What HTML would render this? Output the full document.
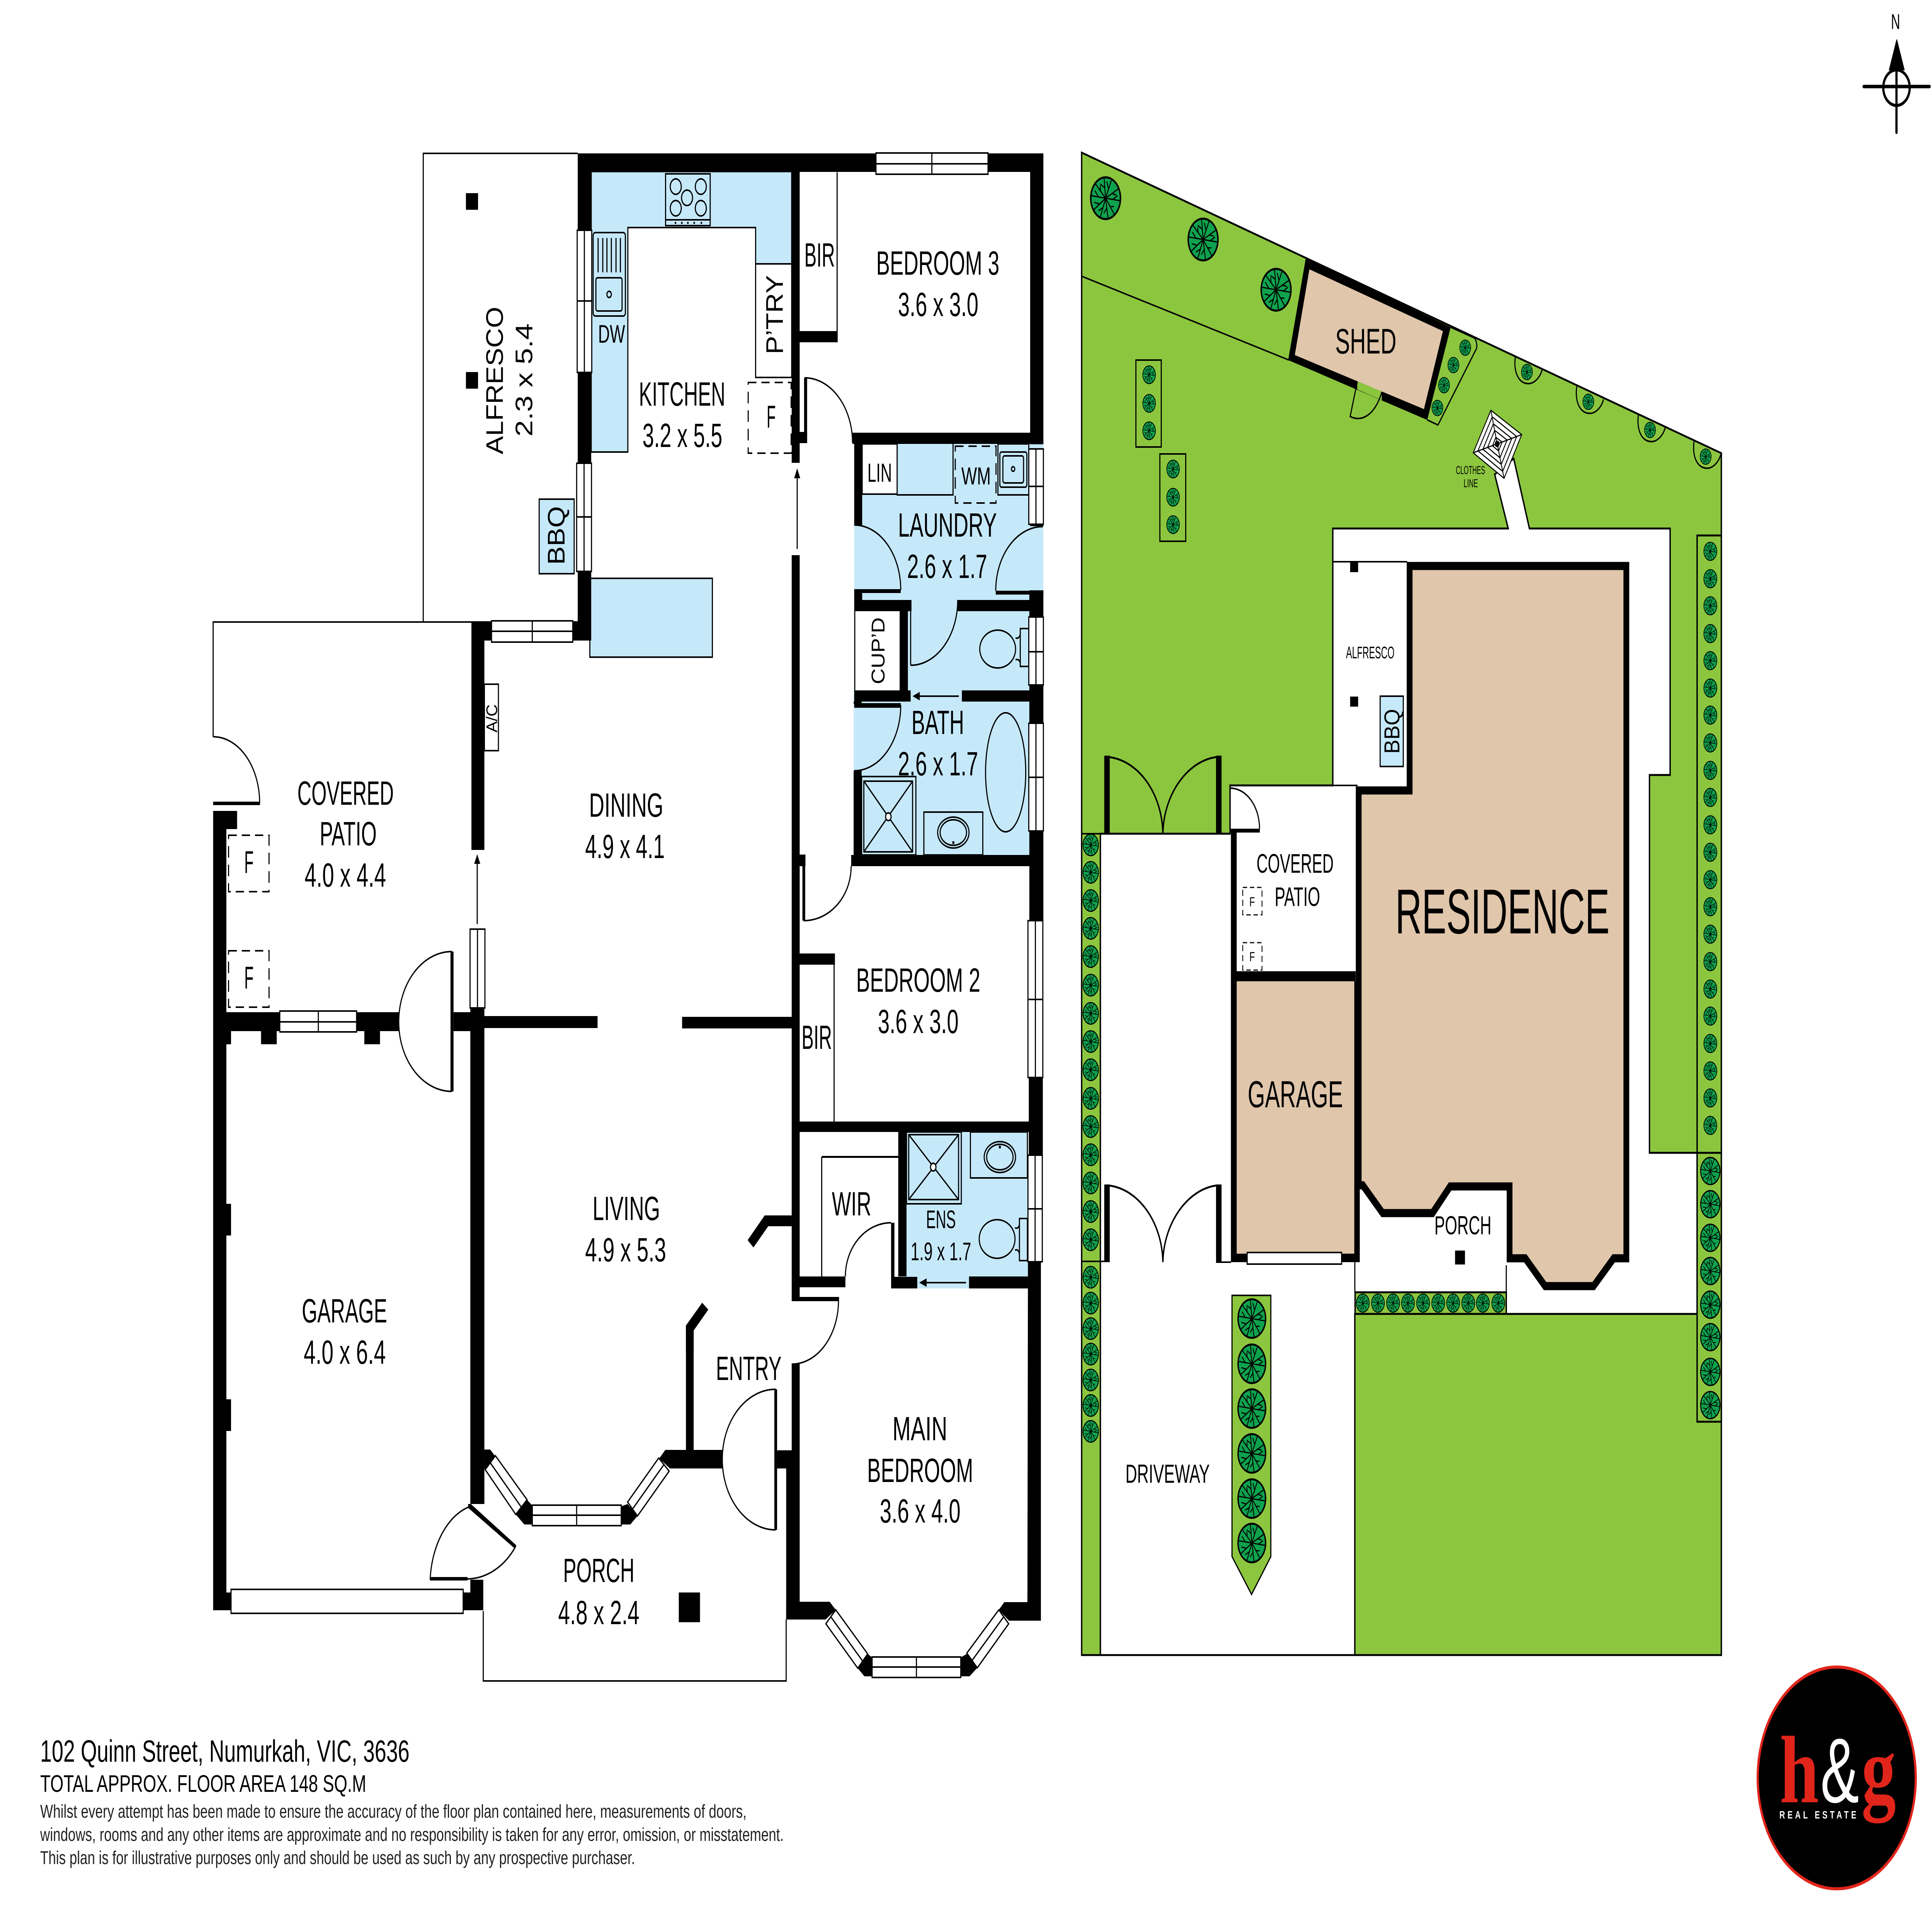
<!DOCTYPE html>
<html><head><meta charset="utf-8"><title>102 Quinn Street Floor Plan</title>
<style>
html,body{margin:0;padding:0;background:#fff;width:100%;height:100%;overflow:hidden}
svg{display:block;width:100vw;height:100vh}
text{font-family:"Liberation Sans",sans-serif;fill:#000;font-size:87px}
.l{stroke:#000;stroke-width:4;fill:none}
.w{fill:#fff;stroke:#000;stroke-width:4}
.b{fill:#c6e9fa;stroke:#000;stroke-width:4}
.d{fill:none;stroke:#000;stroke-width:4;stroke-dasharray:30 18}
.a{fill:none;stroke:#000;stroke-width:4}
.g{fill:#8cc63f;stroke:#000;stroke-width:5}
</style></head><body>
<svg xmlns="http://www.w3.org/2000/svg" viewBox="0 0 7016 4962" preserveAspectRatio="none">
<defs>
<g id="t"><circle r="50" fill="#0ea24e" stroke="#000" stroke-width="5"/><path d="M0 0L-5-48M0 0L20-44M0 0L42-22M0 0L48 6M0 0L30 40M0 0L8 48M0 0L-18 46M0 0L-40 28M0 0L-48-6M0 0L-34-34M-3-25L-18-34M10-22L4-40M21-11L36-8M24 3L40-6M15 20L28 20M4 24L-6 36M-9 23L-24 30M-20 14L-38 10M-24-3L-36-18M-17-17L-18-30" fill="none" stroke="#000" stroke-width="3"/></g>
<g id="s"><path d="M-42-40C-50 0-30 30 5 30C30 30 50 10 55-6" fill="none" stroke="#000" stroke-width="4"/><use href="#t" transform="scale(.4)"/></g>
</defs>
<rect width="7016" height="4962" fill="#fff"/>

<!-- FLOOR PLAN: blue -->
<path class="b" d="M2147 444H2875V683H2744V589H2280V1170H2147Z"/>
<rect class="b" x="2142" y="1497" width="445" height="204"/>
<rect x="3102" y="1149" width="687" height="404" fill="#c6e9fa"/>
<rect x="3297" y="1553" width="441" height="263" fill="#c6e9fa"/>
<rect x="3100" y="1787" width="638" height="426" fill="#c6e9fa"/>
<rect x="3292" y="2930" width="441" height="405" fill="#c6e9fa"/>
<rect class="b" x="1958" y="1292" width="127" height="193"/>

<!-- kitchen fixtures -->
<rect class="w" x="2744" y="683" width="131" height="294"/>
<rect class="b" x="2417" y="450" width="162" height="134"/>
<path class="l" d="M2417 569H2579"/>
<g class="a"><circle cx="2454" cy="483" r="20"/><circle cx="2545" cy="483" r="20"/><circle cx="2495" cy="512" r="20"/><circle cx="2454" cy="539" r="20"/><circle cx="2545" cy="539" r="20"/></g>
<g fill="#000"><circle cx="2453" cy="577" r="3"/><circle cx="2476" cy="577" r="3"/><circle cx="2498" cy="577" r="3"/><circle cx="2521" cy="577" r="3"/><circle cx="2547" cy="577" r="3"/></g>
<rect class="a" x="2154" y="602" width="117" height="216" rx="8"/>
<rect class="a" x="2164" y="719" width="95" height="86" rx="6"/>
<circle class="a" cx="2212" cy="762" r="8"/>
<path class="l" d="M2172 616V705M2189 616V705M2204 616V705M2220 616V705M2237 616V705M2253 616V705"/>
<rect class="d" x="2717" y="990" width="156" height="183"/>

<!-- laundry fixtures -->
<rect class="w" x="3131" y="1149" width="127" height="130"/>
<rect class="b" x="3258" y="1134" width="203" height="147"/>
<rect class="d" x="3469" y="1155" width="148" height="147"/>
<rect class="a" x="3624" y="1149" width="112" height="132"/>
<rect class="a" x="3631" y="1170" width="98" height="91" rx="6"/>
<rect class="a" x="3642" y="1180" width="75" height="70" rx="6"/>
<circle class="a" cx="3679" cy="1214" r="6"/>
<ellipse class="a" cx="3623" cy="1680" rx="65" ry="49"/>
<rect class="a" x="3705" y="1627" width="31" height="98"/>
<path class="a" d="M3688 1651Q3700 1655 3705 1642M3688 1708Q3700 1704 3705 1716"/>
<!-- bath fixtures -->
<rect class="a" x="3129" y="2010" width="197" height="203"/>
<rect class="a" x="3137" y="2022" width="177" height="183"/>
<path class="l" d="M3137 2022L3314 2205M3314 2022L3137 2205"/>
<circle class="w" cx="3226" cy="2114" r="10"/>
<rect class="a" x="3355" y="2102" width="214" height="111"/>
<ellipse class="a" cx="3462" cy="2155" rx="57" ry="40"/><ellipse class="a" cx="3462" cy="2155" rx="48" ry="33"/>
<circle cx="3462" cy="2181" r="4"/>
<ellipse class="a" cx="3652" cy="1999" rx="73" ry="154"/>
<!-- ens fixtures -->
<rect class="a" x="3292" y="2930" width="199" height="186"/>
<rect class="a" x="3300" y="2937" width="181" height="168"/>
<path class="l" d="M3300 2937L3481 3105M3481 2937L3300 3105"/>
<circle class="w" cx="3389" cy="3021" r="10"/>
<rect class="a" x="3524" y="2930" width="207" height="119"/>
<ellipse class="a" cx="3631" cy="2995" rx="57" ry="40"/><ellipse class="a" cx="3631" cy="2995" rx="48" ry="33"/>
<circle cx="3631" cy="2969" r="4"/>
<ellipse class="a" cx="3621" cy="3207" rx="65" ry="50"/>
<rect class="a" x="3702" y="3154" width="29" height="109"/>
<path class="a" d="M3686 3178Q3698 3182 3702 3170M3686 3236Q3698 3232 3702 3246"/>

<!-- thin lines -->
<path class="l" d="M2098 397H1537V1610H2098M1537 1610H774V1907M1755 4170V4351H2855V4192M3040 446V857M3029 2497V2903M2984 2995V3304"/>
<rect class="w" x="1759" y="1771" width="51" height="172"/>
<rect class="d" x="830" y="2162" width="147" height="146"/>
<rect class="d" x="830" y="2461" width="147" height="146"/>

<!-- walls -->
<path fill="#000" d="M2098 397H3789V445H2098ZM2098 397H2147V1658H2098ZM1712 1610H2147V1658H1712ZM1712 1610H1759V2200H1712ZM1708 2609H1759V3893H1708ZM1647 2620H1759V2669H1647ZM1759 2630H2170V2661H1759ZM2477 2632H2875V2662H2477ZM774 2620H1448V2669H774ZM774 2099H822V4168H774ZM774 2099H861V2146H774ZM774 4122H1755V4168H774ZM1708 4089H1755V4168H1708ZM774 2669H839V2703H774ZM948 2669H1005V2703H948ZM1323 2669H1380V2703H1323ZM822 3116H839V3198H822ZM822 3622H839V3704H822ZM2875 445H2904V1198H2875ZM2875 1437H2904V3366H2875ZM2875 3531H2904V3801H2875ZM2822 3754H2875V3801H2822ZM2855 3801H2904V4192H2855ZM2904 857H3042V886H2904ZM3741 445H3789V1150H3741ZM3741 1357H3789V1362H3741ZM3738 1528H3789V2383H3738ZM3736 2383H3787V3000H3736ZM3096 1120H3789V1149H3096ZM2904 1118H2931V1147H2904ZM3102 1149H3131V1359H3102ZM3102 1535H3131V1553H3102ZM3102 1553H3310V1582H3102ZM3478 1553H3741V1582H3478ZM3267 1582H3297V1816H3267ZM3102 1787H3307V1816H3102ZM3493 1787H3738V1816H3493ZM3102 1582H3106V1787H3102ZM3100 1816H3129V1822H3100ZM3100 1995H3129V2213H3100ZM3091 2213H3738V2242H3091ZM2904 2212H2925V2242H2904ZM2904 2468H3032V2497H2904ZM2904 2903H3736V2930H2904ZM3262 2930H3292V3304H3262ZM2984 2992H3262V2997H2984ZM2904 3304H3070V3332H2904ZM3236 3305H3331V3335H3236ZM3519 3304H3733V3335H3519ZM2875 3357H3047V3368H2875ZM2491 3431H2519V3753H2491ZM2822 3754H2875V3801H2822Z"/>
<polygon points="2777,3146 2875,3146 2875,3174 2790,3174 2736,3229 2715,3210"/>
<polygon points="2550,3372 2572,3390 2519,3444 2519,3500 2491,3500 2491,3431"/>
<polygon points="2416,3753 2623,3753 2623,3801 2433,3801 2394,3775"/>
<polygon points="2904,4146 3013,4146 3035,4167 2998,4192 2855,4192 2855,4146"/>
<polygon points="3115,4318 3151,4281 3167,4290 3167,4339 3139,4339"/>
<polygon points="3489,4290 3511,4281 3549,4317 3521,4339 3489,4339"/>
<polygon points="3647,4147 3731,4147 3733,3266 3780,3266 3780,4195 3664,4195 3627,4167"/>
<polygon points="1759,3752 1780,3752 1799,3770 1762,3804 1759,3801"/>
<polygon points="1914,3882 1933,3897 1933,3946 1904,3946 1873,3920"/>
<polygon points="2256,3899 2279,3893 2315,3924 2289,3946 2256,3946"/>
<rect x="1692" y="500" width="44" height="43"/><rect x="1692" y="963" width="44" height="43"/>
<rect x="2465" y="4122" width="77" height="77"/>

<!-- windows -->
<g class="w">
<rect class="w" x="2096" y="596" width="53" height="368"/>
<rect class="w" x="2094" y="1199" width="54" height="280"/>
<rect class="w" x="1785" y="1607" width="295" height="55"/>
<rect class="w" x="3181" y="396" width="407" height="55"/>
<rect class="w" x="3736" y="1162" width="53" height="195"/>
<rect class="w" x="3736" y="1597" width="53" height="176"/>
<rect class="w" x="3736" y="1872" width="53" height="279"/>
<rect class="w" x="3733" y="2383" width="54" height="406"/>
<rect class="w" x="3733" y="2990" width="52" height="276"/>
<rect class="w" x="1016" y="2617" width="279" height="54"/>
<rect class="w" x="1707" y="2405" width="54" height="204"/>
<rect class="w" x="839" y="4114" width="843" height="62"/>
<rect class="w" x="1933" y="3896" width="323" height="53"/>
<rect class="w" x="3167" y="4289" width="322" height="53"/>
<polygon class="w" points="1762,3804 1799,3768 1914,3882 1873,3920"/>
<polygon class="w" points="2279,3888 2392,3774 2430,3808 2315,3924"/>
<polygon class="w" points="3035,4167 3151,4281 3115,4318 2999,4203"/>
<polygon class="w" points="3511,4279 3627,4167 3663,4203 3549,4317"/>
</g>
<path class="l" d="M2122 596V964M2096 779H2149M2121 1199V1479M2094 1338H2148M1785 1634H2080M1933 1607V1662M3181 424H3588M3384 396V451M3762 1162V1357M3736 1259H3789M3762 1597V1773M3736 1687H3789M3762 1872V2151M3736 2012H3789M3760 2383V2789M3733 2587H3787M3759 2990V3266M3733 3129H3785M1016 2645H1295M1156 2617V2671M1734 2405V2609M1933 3922H2256M2094 3896V3949M3167 4315H3489M3328 4289V4342M1780 3786L1893 3901M2297 3906L2411 3791M3017 4185L3133 4300M3530 4298L3645 4185"/>

<!-- doors -->
<g class="a">
<path d="M2922 978A174 169 0 0 1 3096 1147"/>
<path d="M774 1907A169 172 0 0 1 943 2079"/>
<path d="M3102 1359A169 168 0 0 1 3271 1527"/>
<path d="M3787 1363A171 166 0 0 0 3616 1529"/>
<path d="M3478 1553A171 169 0 0 1 3307 1722"/>
<path d="M3271 1825A169 170 0 0 1 3102 1995"/>
<path d="M3091 2242A172 141 0 0 1 2919 2383"/>
<path d="M3070 3304A166 139 0 0 1 3236 3165"/>
<path d="M3045 3366A170 165 0 0 1 2875 3531"/>
<path d="M2817 3596A194 181 0 0 0 2623 3777A194 183 0 0 0 2817 3960"/>
<path d="M1641 2463A193 182 0 0 0 1448 2645A193 180 0 0 0 1641 2825"/>
<path d="M1705 3900A190 210 0 0 0 1562 4089"/>
<path d="M1698 4087A215 190 0 0 0 1873 4002"/>
<path d="M3307 1582V1722M2895 1421V1230M1733 2392V2230M3482 1802H3330M3508 3320H3355"/>
</g>
<path fill="#000" d="M2920 978H2931V1145H2920ZM774 2075H944V2084H774ZM3102 1525H3271V1535H3102ZM3616 1529H3789V1539H3616ZM3102 1820H3271V1832H3102ZM2914 2240H2924V2383H2914ZM3236 3165H3248V3308H3236ZM2812 3596H2822V3960H2812ZM1636 2463H1647V2825H1636ZM1562 4082H1698V4091H1562Z"/>
<polygon points="1700,3893 1710,3893 1875,4000 1869,4008 1700,3903"/>
<polygon points="2895,1212 2884,1238 2906,1238"/>
<polygon points="1733,2211 1722,2236 1744,2236"/>
<polygon points="3314,1802 3340,1791 3340,1813"/>
<polygon points="3338,3320 3365,3309 3365,3331"/>

<!-- floor plan labels -->
<text x="2172" y="887" textLength="98" lengthAdjust="spacingAndGlyphs" style="font-size:66px">DW</text>
<text transform="rotate(-90 1826 1176)" x="1826" y="1176" textLength="382" lengthAdjust="spacingAndGlyphs">ALFRESCO</text>
<text transform="rotate(-90 1933 1130)" x="1933" y="1130" textLength="293" lengthAdjust="spacingAndGlyphs">2.3 x 5.4</text>
<text transform="rotate(-90 2050 1462)" x="2050" y="1462" textLength="152" lengthAdjust="spacingAndGlyphs">BBQ</text>
<text transform="rotate(-90 2843 917)" x="2843" y="917" textLength="205" lengthAdjust="spacingAndGlyphs">P’TRY</text>
<text transform="rotate(-90 1805 1896)" x="1805" y="1896" textLength="73" lengthAdjust="spacingAndGlyphs" style="font-size:56px">A/C</text>
<text transform="rotate(-90 3212 1771)" x="3212" y="1771" textLength="173" lengthAdjust="spacingAndGlyphs" style="font-size:68px">CUP’D</text>
<text x="2921" y="690" textLength="111" lengthAdjust="spacingAndGlyphs">BIR</text>
<text x="3182" y="711" textLength="447" lengthAdjust="spacingAndGlyphs">BEDROOM 3</text>
<text x="3261" y="818" textLength="292" lengthAdjust="spacingAndGlyphs">3.6 x 3.0</text>
<text x="2320" y="1050" textLength="314" lengthAdjust="spacingAndGlyphs">KITCHEN</text>
<text x="2333" y="1157" textLength="290" lengthAdjust="spacingAndGlyphs">3.2 x 5.5</text>
<text x="2784" y="1107" textLength="33" lengthAdjust="spacingAndGlyphs" style="font-size:82px">F</text>
<text x="3150" y="1247" textLength="89" lengthAdjust="spacingAndGlyphs" style="font-size:68px">LIN</text>
<text x="3491" y="1254" textLength="107" lengthAdjust="spacingAndGlyphs" style="font-size:64px">WM</text>
<text x="3261" y="1389" textLength="359" lengthAdjust="spacingAndGlyphs">LAUNDRY</text>
<text x="3294" y="1496" textLength="291" lengthAdjust="spacingAndGlyphs">2.6 x 1.7</text>
<text x="3310" y="1900" textLength="191" lengthAdjust="spacingAndGlyphs">BATH</text>
<text x="3261" y="2007" textLength="291" lengthAdjust="spacingAndGlyphs">2.6 x 1.7</text>
<text x="3109" y="2567" textLength="451" lengthAdjust="spacingAndGlyphs">BEDROOM 2</text>
<text x="3188" y="2674" textLength="293" lengthAdjust="spacingAndGlyphs">3.6 x 3.0</text>
<text x="2911" y="2715" textLength="110" lengthAdjust="spacingAndGlyphs">BIR</text>
<text x="3021" y="3146" textLength="143" lengthAdjust="spacingAndGlyphs">WIR</text>
<text x="3363" y="3179" textLength="108" lengthAdjust="spacingAndGlyphs" style="font-size:66px">ENS</text>
<text x="3307" y="3262" textLength="220" lengthAdjust="spacingAndGlyphs" style="font-size:66px">1.9 x 1.7</text>
<text x="2139" y="2114" textLength="270" lengthAdjust="spacingAndGlyphs">DINING</text>
<text x="2125" y="2221" textLength="289" lengthAdjust="spacingAndGlyphs">4.9 x 4.1</text>
<text x="2152" y="3158" textLength="245" lengthAdjust="spacingAndGlyphs">LIVING</text>
<text x="2125" y="3265" textLength="294" lengthAdjust="spacingAndGlyphs">4.9 x 5.3</text>
<text x="2600" y="3572" textLength="238" lengthAdjust="spacingAndGlyphs">ENTRY</text>
<text x="3241" y="3728" textLength="199" lengthAdjust="spacingAndGlyphs">MAIN</text>
<text x="3149" y="3836" textLength="385" lengthAdjust="spacingAndGlyphs">BEDROOM</text>
<text x="3195" y="3941" textLength="293" lengthAdjust="spacingAndGlyphs">3.6 x 4.0</text>
<text x="2045" y="4095" textLength="259" lengthAdjust="spacingAndGlyphs">PORCH</text>
<text x="2027" y="4204" textLength="295" lengthAdjust="spacingAndGlyphs">4.8 x 2.4</text>
<text x="1096" y="3423" textLength="310" lengthAdjust="spacingAndGlyphs">GARAGE</text>
<text x="1103" y="3530" textLength="298" lengthAdjust="spacingAndGlyphs">4.0 x 6.4</text>
<text x="1080" y="2083" textLength="350" lengthAdjust="spacingAndGlyphs">COVERED</text>
<text x="1161" y="2188" textLength="207" lengthAdjust="spacingAndGlyphs">PATIO</text>
<text x="1106" y="2295" textLength="296" lengthAdjust="spacingAndGlyphs">4.0 x 4.4</text>
<text x="887" y="2260" textLength="34" lengthAdjust="spacingAndGlyphs" style="font-size:82px">F</text>
<text x="887" y="2559" textLength="34" lengthAdjust="spacingAndGlyphs" style="font-size:82px">F</text>

<!-- SITE PLAN -->
<polygon class="g" points="3928,395 6251,1173 6251,4284 3928,4284"/>
<path class="l" d="M3928 715L4681 932"/>
<polygon points="4840,1368 5477,1368 5428,1228 5497,1187 5554,1368 6065,1368 6065,2006 5990,2006 5990,2984 6163,2984 6163,3401 4920,3401 4920,4284 3996,4284 3996,2158 4467,2158 4467,2033 4840,2033" fill="#fff" stroke="#000" stroke-width="5"/>
<path class="l" d="M3928 2158H4020M4420 2158H4467M3928 3265H4030M4416 3267H4470M4840 1454H5110M4920 3267V3345M5470 3275V3401M3928 4284H6251"/>

<!-- shed -->
<polygon fill="#000" points="4742,668 5268,847 5183,1087 4678,932"/>
<polygon fill="#e0c6ab" points="4755,697 5240,857 5171,1059 4702,919"/>
<polygon fill="#8cc63f" points="4929,987 5018,1013 5018,1036 4929,1008"/>
<path class="l" d="M4929 988L4903 1078C4940 1092 4990 1080 5018 1015"/>
<path d="M5268 847L5355 875C5368 890 5362 905 5359 906L5222 1100L5183 1087" fill="none" stroke="#000" stroke-width="4"/>
<use href="#t" transform="translate(5321 900) scale(.4)"/><use href="#t" transform="translate(5278 945) scale(.4)"/><use href="#t" transform="translate(5244 997) scale(.4)"/><use href="#t" transform="translate(5220 1056) scale(.4)"/>
<use href="#s" transform="translate(5545 963)"/><use href="#s" transform="translate(5768 1040)"/><use href="#s" transform="translate(5992 1113)"/><use href="#s" transform="translate(6194 1182)"/>
<use href="#t" transform="translate(4015 513) scale(1.08)"/><use href="#t" transform="translate(4369 620) scale(1.08)"/><use href="#t" transform="translate(4634 750) scale(1.08)"/>
<text x="4849" y="915" textLength="222" lengthAdjust="spacingAndGlyphs" style="font-size:92px">SHED</text>

<!-- clothes line -->
<g transform="translate(5437 1149)" fill="none" stroke="#000" stroke-width="3">
<polygon fill="#fff" points="-23,-87 89,-24 25,89 -87,23"/>
<polygon points="-18,-70 71,-19 20,71 -70,18"/><polygon points="-14,-52 53,-14 15,53 -52,14"/><polygon points="-9,-35 36,-10 10,36 -35,9"/><polygon points="-5,-17 18,-5 5,18 -17,5"/>
<path d="M0 0L-23-87M0 0L89-24M0 0L25 89M0 0L-87 23"/><circle r="7" fill="#000"/></g>
<text x="5287" y="1227" textLength="106" lengthAdjust="spacingAndGlyphs" style="font-size:30px">CLOTHES</text>
<text x="5315" y="1261" textLength="52" lengthAdjust="spacingAndGlyphs" style="font-size:30px">LINE</text>

<!-- hedge boxes -->
<rect class="g" x="4125" y="932" width="92" height="225" style="stroke-width:4"/>
<rect class="g" x="4212" y="1175" width="94" height="226" style="stroke-width:4"/>
<use href="#t" transform="translate(4173 970) scale(.46)"/><use href="#t" transform="translate(4173 1044) scale(.46)"/><use href="#t" transform="translate(4173 1115) scale(.46)"/>
<use href="#t" transform="translate(4260 1214) scale(.46)"/><use href="#t" transform="translate(4260 1287) scale(.46)"/><use href="#t" transform="translate(4260 1358) scale(.46)"/>

<!-- right hedges -->
<rect class="g" x="6163" y="1386" width="88" height="1598"/>
<rect class="g" x="6163" y="2984" width="88" height="696"/>
<g>
<use href="#t" transform="translate(6211 1427) scale(.47)"/><use href="#t" transform="translate(6211 1498) scale(.47)"/><use href="#t" transform="translate(6211 1568) scale(.47)"/><use href="#t" transform="translate(6211 1640) scale(.47)"/><use href="#t" transform="translate(6211 1710) scale(.47)"/><use href="#t" transform="translate(6211 1781) scale(.47)"/><use href="#t" transform="translate(6211 1851) scale(.47)"/><use href="#t" transform="translate(6211 1923) scale(.47)"/><use href="#t" transform="translate(6211 1994) scale(.47)"/><use href="#t" transform="translate(6211 2064) scale(.47)"/><use href="#t" transform="translate(6211 2135) scale(.47)"/><use href="#t" transform="translate(6211 2206) scale(.47)"/><use href="#t" transform="translate(6211 2277) scale(.47)"/><use href="#t" transform="translate(6211 2347) scale(.47)"/><use href="#t" transform="translate(6211 2418) scale(.47)"/><use href="#t" transform="translate(6211 2489) scale(.47)"/><use href="#t" transform="translate(6211 2560) scale(.47)"/><use href="#t" transform="translate(6211 2630) scale(.47)"/><use href="#t" transform="translate(6211 2701) scale(.47)"/><use href="#t" transform="translate(6211 2772) scale(.47)"/><use href="#t" transform="translate(6211 2842) scale(.47)"/><use href="#t" transform="translate(6211 2913) scale(.47)"/>
<use href="#t" transform="translate(6211 3031) scale(.7)"/><use href="#t" transform="translate(6211 3117) scale(.7)"/><use href="#t" transform="translate(6211 3204) scale(.7)"/><use href="#t" transform="translate(6211 3290) scale(.7)"/><use href="#t" transform="translate(6211 3377) scale(.7)"/><use href="#t" transform="translate(6211 3461) scale(.7)"/><use href="#t" transform="translate(6211 3551) scale(.7)"/><use href="#t" transform="translate(6211 3637) scale(.7)"/>
</g>
<!-- left hedge -->
<g>
<use href="#t" transform="translate(3961 2187) scale(.56)"/><use href="#t" transform="translate(3961 2258) scale(.56)"/><use href="#t" transform="translate(3961 2331) scale(.56)"/><use href="#t" transform="translate(3961 2403) scale(.56)"/><use href="#t" transform="translate(3961 2476) scale(.56)"/><use href="#t" transform="translate(3961 2550) scale(.56)"/><use href="#t" transform="translate(3961 2623) scale(.56)"/><use href="#t" transform="translate(3961 2696) scale(.56)"/><use href="#t" transform="translate(3961 2769) scale(.56)"/><use href="#t" transform="translate(3961 2843) scale(.56)"/><use href="#t" transform="translate(3961 2916) scale(.56)"/><use href="#t" transform="translate(3961 2989) scale(.56)"/><use href="#t" transform="translate(3961 3062) scale(.56)"/><use href="#t" transform="translate(3961 3136) scale(.56)"/><use href="#t" transform="translate(3961 3209) scale(.56)"/>
<use href="#t" transform="translate(3961 3306) scale(.56)"/><use href="#t" transform="translate(3961 3373) scale(.56)"/><use href="#t" transform="translate(3961 3439) scale(.56)"/><use href="#t" transform="translate(3961 3505) scale(.56)"/><use href="#t" transform="translate(3961 3572) scale(.56)"/><use href="#t" transform="translate(3961 3638) scale(.56)"/><use href="#t" transform="translate(3961 3705) scale(.56)"/>
</g>
<!-- gates -->
<path fill="#000" d="M4010 1956H4030V2158H4010ZM4416 1956H4436V2158H4416ZM4010 3066H4030V3265H4010ZM4416 3066H4436V3265H4416Z"/>
<path d="M4019 1959C4130 1965 4220 2050 4223 2158C4226 2050 4320 1965 4425 1959M4019 3068C4130 3074 4220 3160 4223 3267C4226 3160 4320 3074 4425 3068" fill="none" stroke="#000" stroke-width="5"/>

<!-- driveway hedge -->
<polygon points="4474,3353 4615,3353 4615,4029 4545,4127 4474,4029" fill="#8cc63f" stroke="#000" stroke-width="4"/>
<use href="#t" transform="translate(4546 3413) scale(1)"/><use href="#t" transform="translate(4546 3530) scale(1)"/><use href="#t" transform="translate(4546 3646) scale(1)"/><use href="#t" transform="translate(4546 3762) scale(1)"/><use href="#t" transform="translate(4546 3879) scale(1)"/><use href="#t" transform="translate(4546 3994) scale(1)"/>
<text x="4087" y="3838" textLength="306" lengthAdjust="spacingAndGlyphs" style="font-size:68px">DRIVEWAY</text>

<!-- porch hedge -->
<rect class="g" x="4921" y="3345" width="549" height="56"/>
<use href="#t" transform="translate(4949 3373) scale(.47)"/><use href="#t" transform="translate(5004 3373) scale(.47)"/><use href="#t" transform="translate(5059 3373) scale(.47)"/><use href="#t" transform="translate(5113 3373) scale(.47)"/><use href="#t" transform="translate(5168 3373) scale(.47)"/><use href="#t" transform="translate(5223 3373) scale(.47)"/><use href="#t" transform="translate(5277 3373) scale(.47)"/><use href="#t" transform="translate(5332 3373) scale(.47)"/><use href="#t" transform="translate(5385 3373) scale(.47)"/><use href="#t" transform="translate(5441 3373) scale(.47)"/>

<!-- residence -->
<polygon points="5119,1465 5906,1465 5906,3257 5860,3257 5787,3329 5611,3329 5539,3257 5482,3257 5482,3071 5266,3071 5202,3140 5021,3140 4949,3068 4934,3068 4934,2046 5119,2046" fill="#e0c6ab" stroke="#000" stroke-width="21" stroke-linejoin="miter"/>
<!-- garage and patio -->
<rect x="4491" y="2540" width="427" height="705" fill="#e0c6ab"/>
<path fill="#000" d="M4470 2145H4491V3267H4470ZM4470 2514H4923V2540H4470ZM4470 3245H4938V3267H4470ZM4918 2540H4938V3267H4918ZM4467 2145H4575V2155H4467Z"/>
<path class="l" d="M4467 2033H4930"/>
<path d="M4467 2040A107 105 0 0 1 4574 2145" fill="none" stroke="#000" stroke-width="4"/>
<rect class="w" x="4529" y="3242" width="343" height="30"/>
<rect x="4513" y="2297" width="70" height="71" fill="none" stroke="#000" stroke-width="3" stroke-dasharray="16 10"/>
<rect x="4513" y="2440" width="70" height="71" fill="none" stroke="#000" stroke-width="3" stroke-dasharray="16 10"/>
<text x="4537" y="2346" textLength="20" lengthAdjust="spacingAndGlyphs" style="font-size:34px">F</text>
<text x="4537" y="2488" textLength="20" lengthAdjust="spacingAndGlyphs" style="font-size:34px">F</text>
<text x="4563" y="2259" textLength="280" lengthAdjust="spacingAndGlyphs" style="font-size:70px">COVERED</text>
<text x="4629" y="2345" textLength="165" lengthAdjust="spacingAndGlyphs" style="font-size:70px">PATIO</text>
<text x="4531" y="2866" textLength="346" lengthAdjust="spacingAndGlyphs" style="font-size:97px">GARAGE</text>
<text x="5067" y="2416" textLength="778" lengthAdjust="spacingAndGlyphs" style="font-size:164px">RESIDENCE</text>
<text x="5209" y="3195" textLength="207" lengthAdjust="spacingAndGlyphs" style="font-size:68px">PORCH</text>
<rect x="5284" y="3237" width="36" height="36"/>
<!-- site alfresco -->
<rect x="4903" y="1456" width="29" height="25"/><rect x="4903" y="1803" width="29" height="26"/>
<text x="4888" y="1704" textLength="176" lengthAdjust="spacingAndGlyphs" style="font-size:44px">ALFRESCO</text>
<rect class="b" x="5012" y="1802" width="84" height="182"/>
<text transform="rotate(-90 5082 1951)" x="5082" y="1951" textLength="116" lengthAdjust="spacingAndGlyphs" style="font-size:78px">BBQ</text>

<!-- north -->
<text x="6867" y="75" textLength="33" lengthAdjust="spacingAndGlyphs" style="font-size:56px">N</text>
<polygon points="6887,102 6889,102 6917,182 6859,182" fill="#000"/>
<ellipse cx="6887" cy="227" rx="48" ry="46" fill="none" stroke="#000" stroke-width="8"/>
<path d="M6887 175V343" stroke="#000" stroke-width="8" stroke-linecap="round" fill="none"/>
<path d="M6768 224H7007" stroke="#000" stroke-width="9" stroke-linecap="round" fill="none"/>

<!-- logo -->
<circle cx="6670" cy="4602" r="287" fill="#000" stroke="#e1251b" stroke-width="8"/>
<text x="6463" y="4665" textLength="142" lengthAdjust="spacingAndGlyphs" style="font-family:'Liberation Serif',serif;font-weight:bold;font-size:248px;fill:#e1251b">h</text>
<text x="6611" y="4665" textLength="140" lengthAdjust="spacingAndGlyphs" style="font-size:238px;fill:#fff">&amp;</text>
<text x="6760" y="4665" textLength="125" lengthAdjust="spacingAndGlyphs" style="font-family:'Liberation Serif',serif;font-weight:bold;font-size:248px;fill:#e1251b">g</text>
<text x="6462" y="4707" textLength="279" lengthAdjust="spacing" style="font-size:28px;font-weight:bold;fill:#fff">REAL ESTATE</text>

<!-- footer -->
<text x="146" y="4560" textLength="1341" lengthAdjust="spacingAndGlyphs" style="font-size:80px">102 Quinn Street, Numurkah, VIC, 3636</text>
<text x="146" y="4638" textLength="1184" lengthAdjust="spacingAndGlyphs" style="font-size:62px">TOTAL APPROX. FLOOR AREA 148 SQ.M</text>
<text x="146" y="4705" textLength="2565" lengthAdjust="spacingAndGlyphs" style="font-size:48px;fill:#231f20">Whilst every attempt has been made to ensure the accuracy of the floor plan contained here, measurements of doors,</text>
<text x="146" y="4765" textLength="2700" lengthAdjust="spacingAndGlyphs" style="font-size:48px;fill:#231f20">windows, rooms and any other items are approximate and no responsibility is taken for any error, omission, or misstatement.</text>
<text x="146" y="4825" textLength="2160" lengthAdjust="spacingAndGlyphs" style="font-size:48px;fill:#231f20">This plan is for illustrative purposes only and should be used as such by any prospective purchaser.</text>
</svg>
</body></html>
